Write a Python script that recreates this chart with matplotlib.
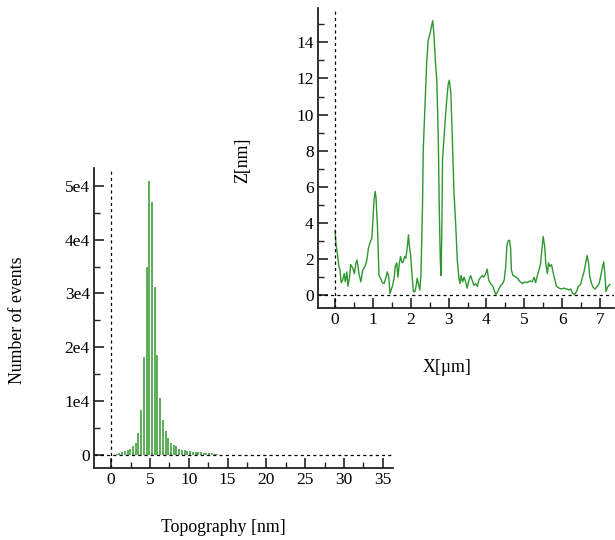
import numpy as np
import matplotlib
matplotlib.use("Agg")
import matplotlib.pyplot as plt
from matplotlib.ticker import MultipleLocator

plt.rcParams['font.family'] = ['Liberation Serif', 'DejaVu Serif']

# Histogram of topography (bin centres in nm, counts)
topo_nm = [0.72, 1.07, 1.42, 1.77, 2.12, 2.47, 2.82, 3.17, 3.52, 3.87,
           4.22, 4.57, 4.92, 5.27, 5.62, 5.97, 6.32, 6.67, 7.02, 7.37,
           7.72, 8.07, 8.42, 8.77, 9.12, 9.47, 9.82, 10.17, 10.52, 10.87,
           11.22, 11.57, 11.92, 12.27, 12.62, 12.97, 13.32, 13.67]
counts = [200, 370, 500, 680, 1000, 1200, 1600, 2200, 4100, 8400,
          18200, 35000, 50900, 46900, 31200, 18500, 10600, 6500, 4500, 3100,
          2200, 1900, 1600, 1200, 1000, 900, 800, 700, 600, 550,
          550, 500, 400, 400, 350, 300, 250, 220]
hist_yticks = [0, 10000, 20000, 30000, 40000, 50000]
hist_ylabels = ['0', '1e4', '2e4', '3e4', '4e4', '5e4']

# Height profile (X in um, Z in nm)
prof_x = [0.00, 0.02, 0.06, 0.10, 0.13, 0.16, 0.20, 0.24, 0.27, 0.31,
          0.34, 0.38, 0.41, 0.47, 0.51, 0.55, 0.58, 0.63, 0.68, 0.73,
          0.79, 0.84, 0.88, 0.92, 0.97, 0.99, 1.03, 1.06, 1.08, 1.12,
          1.16, 1.20, 1.25, 1.29, 1.34, 1.38, 1.42, 1.45, 1.49, 1.52,
          1.56, 1.59, 1.63, 1.66, 1.70, 1.73, 1.77, 1.80, 1.84, 1.87,
          1.91, 1.94, 1.96, 2.00, 2.03, 2.07, 2.11, 2.14, 2.17, 2.20,
          2.24, 2.27, 2.31, 2.33, 2.38, 2.42, 2.46, 2.51, 2.55, 2.58,
          2.61, 2.65, 2.69, 2.73, 2.75, 2.78, 2.80, 2.82, 2.84, 2.88,
          2.91, 2.95, 2.99, 3.02, 3.06, 3.10, 3.14, 3.19, 3.23, 3.27,
          3.30, 3.33, 3.37, 3.41, 3.45, 3.49, 3.54, 3.58, 3.62, 3.67,
          3.71, 3.76, 3.80, 3.85, 3.89, 3.93, 3.98, 4.02, 4.06, 4.11,
          4.17, 4.21, 4.25, 4.30, 4.34, 4.38, 4.43, 4.47, 4.51, 4.54,
          4.57, 4.61, 4.64, 4.66, 4.70, 4.75, 4.82, 4.89, 4.96, 5.02,
          5.08, 5.15, 5.21, 5.26, 5.30, 5.34, 5.39, 5.43, 5.47, 5.50,
          5.54, 5.57, 5.61, 5.64, 5.68, 5.72, 5.77, 5.81, 5.85, 5.92,
          5.99, 6.05, 6.12, 6.18, 6.23, 6.28, 6.33, 6.38, 6.43, 6.49,
          6.53, 6.58, 6.62, 6.66, 6.70, 6.73, 6.78, 6.82, 6.87, 6.93,
          6.98, 7.02, 7.07, 7.10, 7.13, 7.16, 7.20, 7.24, 7.26]
prof_z = [3.6, 2.9, 2.3, 1.6, 1.4, 0.7, 0.85, 1.2, 0.75, 1.3,
          0.5, 1.0, 1.7, 1.5, 1.2, 1.8, 1.95, 1.2, 0.75, 1.4,
          1.6, 1.95, 2.6, 2.9, 3.15, 3.8, 5.3, 5.75, 5.45, 3.8,
          1.1, 0.95, 0.7, 0.65, 0.95, 1.3, 1.0, 0.1, 0.35, 0.55,
          0.95, 1.6, 1.8, 1.0, 1.8, 2.15, 1.8, 1.85, 2.15, 2.05,
          2.7, 3.35, 2.8, 2.15, 1.2, 0.2, 0.2, 0.5, 0.95, 0.65,
          0.3, 1.2, 4.9, 8.05, 10.8, 12.85, 14.1, 14.5, 14.9, 15.2,
          14.5, 13.0, 11.8, 8.4, 5.3, 1.95, 1.1, 3.4, 7.5, 8.8,
          9.7, 10.8, 11.7, 11.9, 11.2, 8.6, 5.8, 3.8, 1.95, 1.0,
          0.65, 1.1, 0.75, 1.0, 0.75, 0.4, 0.85, 1.1, 0.85, 0.55,
          0.65, 0.5, 0.85, 1.0, 1.1, 1.0, 1.2, 1.45, 0.85, 0.65,
          0.5, 0.25, 0.05, 0.2, 0.4, 0.55, 0.65, 0.85, 1.6, 2.7,
          3.0, 3.05, 2.6, 1.4, 1.1, 1.05, 0.95, 0.75, 0.65, 0.75,
          0.7, 0.8, 0.75, 1.0, 0.7, 1.05, 1.4, 1.75, 2.6, 3.25,
          2.7, 1.75, 1.2, 1.8, 1.6, 1.7, 1.2, 0.85, 0.5, 0.4,
          0.35, 0.4, 0.35, 0.3, 0.35, 0.1, 0.05, 0.2, 0.5, 0.6,
          0.95, 1.3, 1.75, 2.2, 1.8, 1.05, 0.65, 0.45, 0.35, 0.5,
          0.65, 1.05, 1.6, 1.85, 1.2, 0.2, 0.45, 0.55, 0.6]

W, H = 615, 540
fig = plt.figure(figsize=(W / 100, H / 100), dpi=100)

green = '#2f972f'


def style_axes(ax):
    for s in ['top', 'right']:
        ax.spines[s].set_visible(False)
    for s in ['left', 'bottom']:
        ax.spines[s].set_linewidth(1.3)
        ax.spines[s].set_color('#222222')
    ax.tick_params(which='major', direction='in', length=7, width=1.2,
                   labelsize=12.5, color='#222222', pad=3)
    ax.tick_params(which='minor', direction='in', length=4, width=1.0,
                   color='#222222')
    ax.axvline(0, color='black', lw=0.9, ls=(0, (2.5, 2.5)))
    ax.axhline(0, color='black', lw=0.9, ls=(0, (2.5, 2.5)))
    ax.set_facecolor('none')


# Histogram axes
ax1 = fig.add_axes([94 / W, 1 - 468 / H, (393 - 94) / W, 300 / H])
ax1.vlines(topo_nm, 0, counts, color=green, lw=1.1)
ax1.set_xlim(-2.2, 36.3)
ax1.set_ylim(-2400, 53300)
ax1.xaxis.set_major_locator(MultipleLocator(5))
ax1.xaxis.set_minor_locator(MultipleLocator(2.5))
ax1.set_yticks(hist_yticks)
ax1.set_yticklabels(hist_ylabels)
ax1.yaxis.set_minor_locator(MultipleLocator(5000))
style_axes(ax1)

# Profile axes
ax2 = fig.add_axes([317.7 / W, 1 - 308 / H, 296.6 / W, 300 / H])
ax2.plot(prof_x, prof_z, color=green, lw=1.0)
ax2.set_xlim(-0.46, 7.38)
ax2.set_ylim(-0.7, 15.9)
ax2.xaxis.set_major_locator(MultipleLocator(1))
ax2.xaxis.set_minor_locator(MultipleLocator(0.5))
ax2.yaxis.set_major_locator(MultipleLocator(2))
ax2.yaxis.set_minor_locator(MultipleLocator(1))
style_axes(ax2)

# Axis labels
fig.text(18 / W, 1 - 320 / H, 'Number of events', rotation=90,
         ha='center', va='center', fontsize=12.8)
fig.text(223 / W, 1 - 527 / H, 'Topography [nm]', ha='center', va='center',
         fontsize=12.8)
fig.text(243 / W, 1 - 160 / H, 'Z[nm]', rotation=90, ha='center',
         va='center', fontsize=12.8)
fig.text(447 / W, 1 - 367 / H, 'X[\u00b5m]', ha='center', va='center',
         fontsize=12.8)

fig.savefig('out.png', dpi=100)
